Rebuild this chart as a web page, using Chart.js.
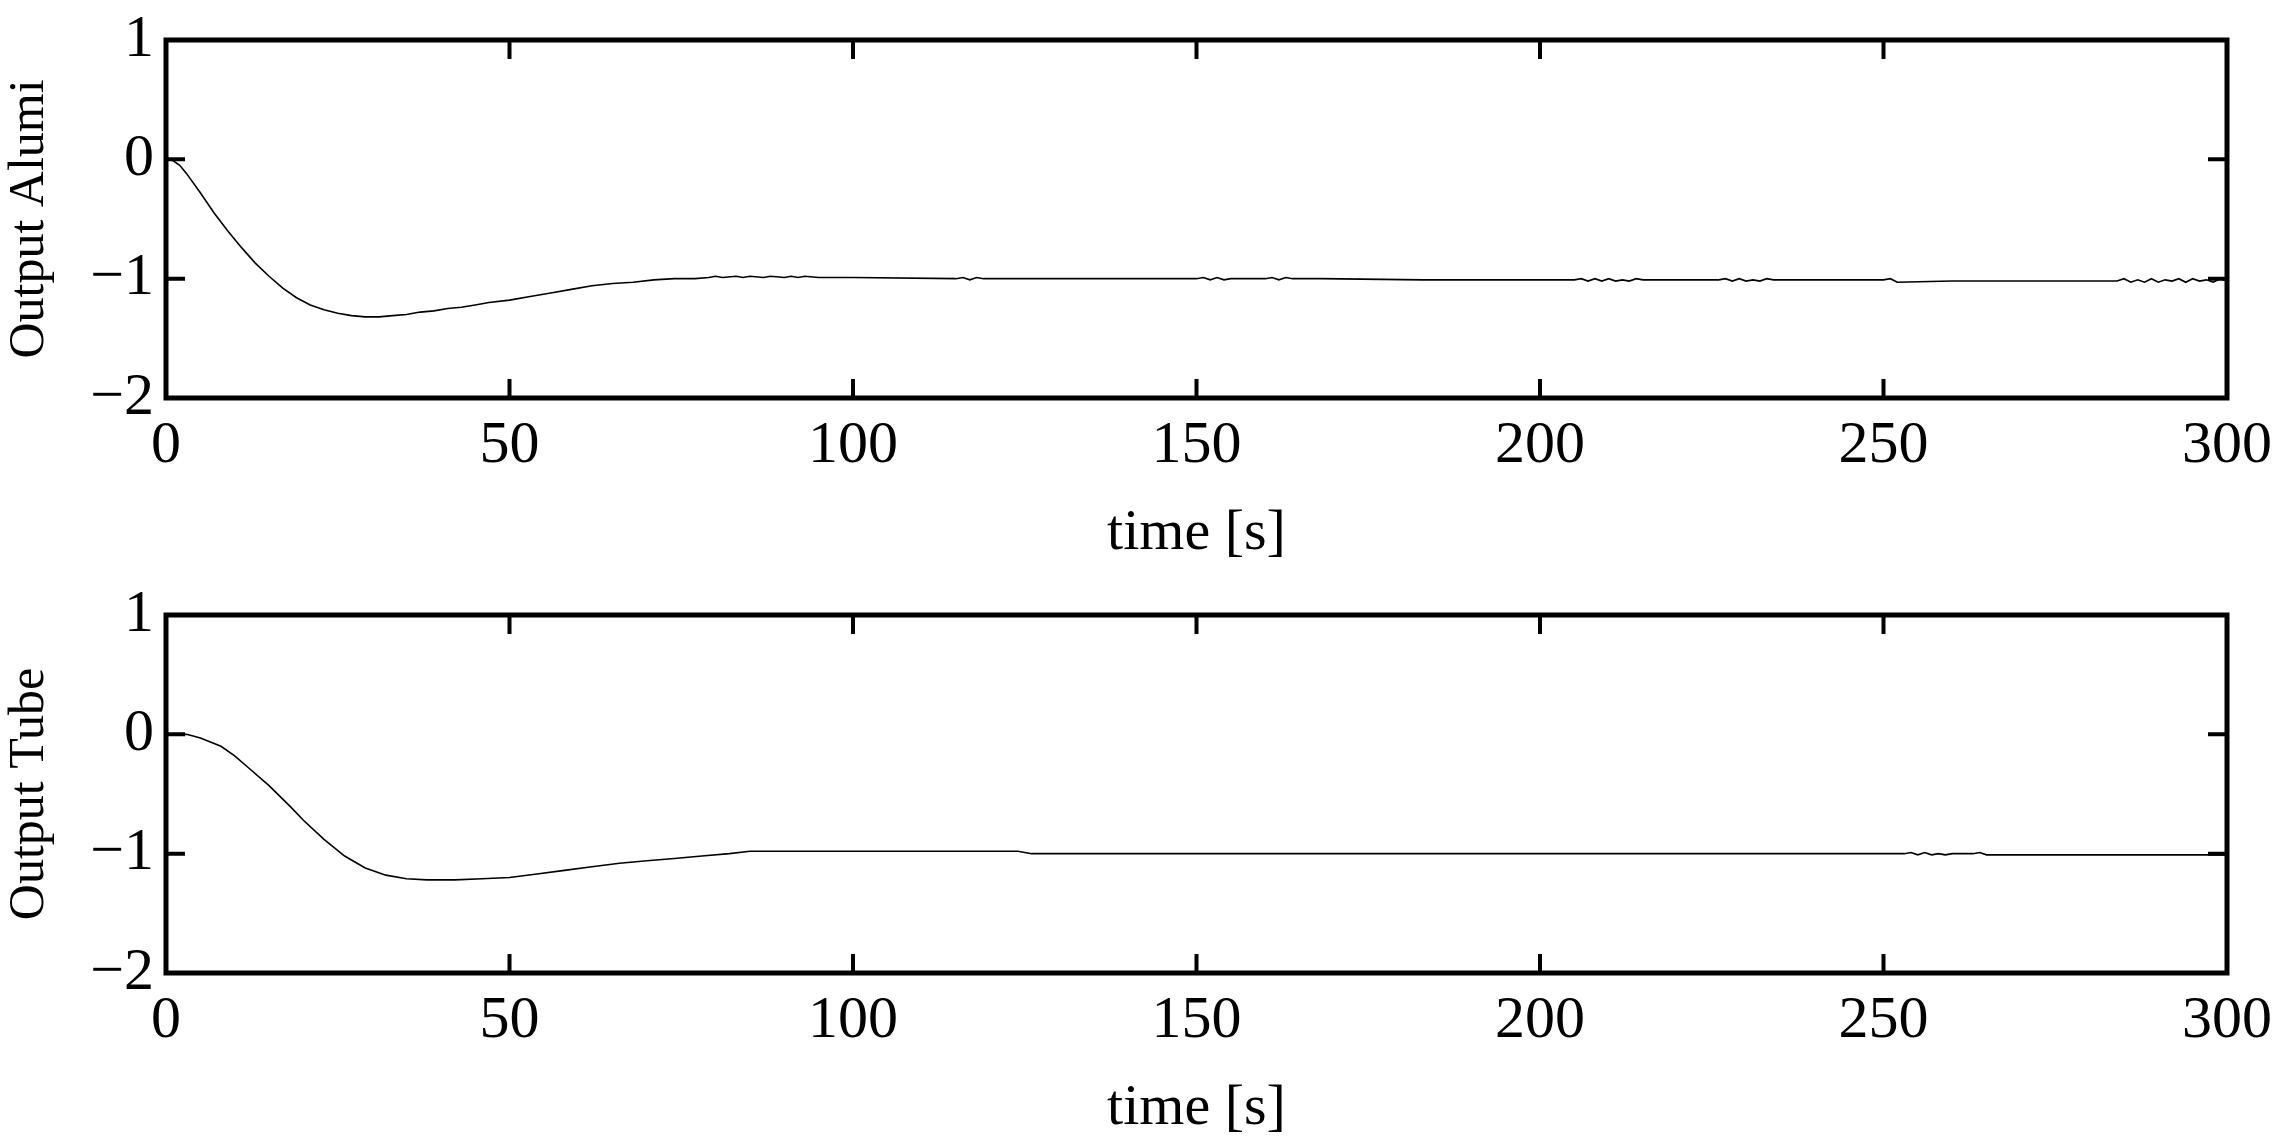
<!DOCTYPE html>
<html><head><meta charset="utf-8">
<script src="https://cdn.jsdelivr.net/npm/chart.js@4.4.0/dist/chart.umd.min.js"></script>
<style>html,body{margin:0;padding:0;background:#fff;width:2287px;height:1146px;overflow:hidden}
.c{position:absolute;left:0;width:2287px;height:573px}</style></head>
<body>
<div class="c" style="top:0"><canvas id="c1"></canvas></div>
<div class="c" style="top:575px"><canvas id="c2"></canvas></div>
<script>
const xTicks = [0,50,100,150,200,250,300];
const yTicks = [-2,-1,0,1];
const alumiT = [0,1,2,3,5,7,9,11,13,15,17,19,21,23,25,27,29,31,33,35,37,39,41,43,45,47,50,53,56,59,62,65,68,71,74,77,79,80,81,83,84,85,87,88,90,91,92,93,95,100,115,116,117,118,119,125,150,151,152,153,154,155,160,161,162,163,164,168,183,200,205,206,207,208,209,210,211,212,213,214,215,222,226,227,228,229,230,231,232,233,234,235,245,250,251,252,260,270,283,284,285,286,287,288,289,290,291,292,293,294,295,296,297,298,299,300];
const alumiV = [0,-0.01,-0.05,-0.12,-0.28,-0.45,-0.6,-0.74,-0.87,-0.98,-1.08,-1.16,-1.22,-1.26,-1.29,-1.31,-1.32,-1.32,-1.31,-1.3,-1.28,-1.27,-1.25,-1.24,-1.22,-1.2,-1.18,-1.15,-1.12,-1.09,-1.06,-1.04,-1.03,-1.01,-1.0,-1.0,-0.99,-0.98,-0.99,-0.98,-0.99,-0.98,-0.99,-0.98,-0.99,-0.98,-0.99,-0.98,-0.99,-0.99,-1.0,-0.99,-1.01,-0.99,-1.0,-1.0,-1.0,-0.99,-1.01,-0.99,-1.01,-1.0,-1.0,-0.99,-1.01,-0.99,-1.0,-1.0,-1.01,-1.01,-1.01,-1.0,-1.02,-1.0,-1.02,-1.0,-1.02,-1.01,-1.02,-1.0,-1.01,-1.01,-1.01,-1.0,-1.02,-1.0,-1.02,-1.01,-1.02,-1.0,-1.01,-1.01,-1.01,-1.01,-1.0,-1.03,-1.02,-1.02,-1.02,-1.02,-1.0,-1.03,-1.01,-1.03,-1.0,-1.03,-1.01,-1.02,-1.0,-1.03,-1.0,-1.02,-1.01,-1.03,-1.0,-1.02,-1.01];
const tubeT = [0,3,5,8,10,12,15,18,20,23,26,29,32,35,38,42,46,50,54,58,62,66,70,74,78,82,85,90,100,110,124,125,126,150,200,250,253,254,255,256,257,258,259,260,263,264,265,280,300];
const tubeV = [0,0,-0.03,-0.1,-0.18,-0.28,-0.43,-0.6,-0.72,-0.88,-1.02,-1.12,-1.18,-1.21,-1.22,-1.22,-1.21,-1.2,-1.17,-1.14,-1.11,-1.08,-1.06,-1.04,-1.02,-1.0,-0.98,-0.98,-0.98,-0.98,-0.98,-0.99,-1.0,-1.0,-1.0,-1.0,-1.0,-0.99,-1.01,-0.99,-1.01,-1.0,-1.01,-1.0,-1.0,-0.99,-1.01,-1.01,-1.01];

const FONT = '"Liberation Serif", "DejaVu Serif", serif';
const frame = {
  id:'frame',
  afterDraw(ch){
    const a=ch.chartArea,ctx=ch.ctx,xs=ch.scales.x,ys=ch.scales.y;
    ctx.save();ctx.strokeStyle='#000';ctx.lineWidth=5;
    ctx.strokeRect(a.left,a.top,a.right-a.left,a.bottom-a.top);
    ctx.lineWidth=4;ctx.beginPath();
    const L=19;
    xTicks.forEach(v=>{const p=xs.getPixelForValue(v);ctx.moveTo(p,a.top);ctx.lineTo(p,a.top+L);ctx.moveTo(p,a.bottom);ctx.lineTo(p,a.bottom-L);});
    yTicks.forEach(v=>{const p=ys.getPixelForValue(v);ctx.moveTo(a.left,p);ctx.lineTo(a.left+L,p);ctx.moveTo(a.right,p);ctx.lineTo(a.right-L,p);});
    ctx.stroke();ctx.restore();
  }
};
function make(id,t,v,ytitle){
  new Chart(document.getElementById(id),{
    type:'line',
    data:{datasets:[{data:t.map((x,i)=>({x,y:v[i]})),borderColor:'#000',borderWidth:1.6,pointRadius:0,tension:0,fill:false}]},
    options:{
      responsive:true,maintainAspectRatio:false,animation:false,
      layout:{padding:{top:32,right:60,left:0,bottom:0}},
      plugins:{legend:{display:false},tooltip:{enabled:false}},
      scales:{
        x:{type:'linear',min:0,max:300,
          afterBuildTicks(s){s.ticks=xTicks.map(v=>({value:v}));},
          afterFit(s){s.height=175;},
          grid:{display:false},border:{display:false},
          ticks:{font:{family:FONT,size:60},color:'#000',padding:4,maxRotation:0},
          title:{display:true,text:'time [s]',font:{family:FONT,size:58},color:'#000',padding:{top:0}}},
        y:{min:-2,max:1,
          afterBuildTicks(s){s.ticks=yTicks.map(v=>({value:v}));},
          afterFit(s){s.width=166;},
          grid:{display:false},border:{display:false},
          ticks:{font:{family:FONT,size:60},color:'#000',padding:4,callback:v=>String(v).replace('-','\u2212')},
          title:{display:true,text:ytitle,font:{family:FONT,size:50},color:'#000',padding:{top:0,bottom:0}}}
      }
    },
    plugins:[frame]
  });
}
make('c1',alumiT,alumiV,'Output Alumi');
make('c2',tubeT,tubeV,'Output Tube');
</script></body></html>
